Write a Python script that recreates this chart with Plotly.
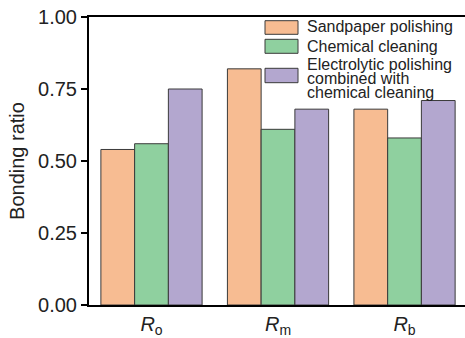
import plotly.graph_objects as go

categories = ["<i>R</i><sub>o</sub>", "<i>R</i><sub>m</sub>", "<i>R</i><sub>b</sub>"]
series_names = ["Sandpaper polishing", "Chemical cleaning",
                "Electrolytic polishing<br>combined with<br>chemical cleaning"]
sandpaper = [0.54, 0.82, 0.68]
chemical = [0.56, 0.61, 0.58]
electrolytic = [0.75, 0.68, 0.71]
colors = ["#F7BC92", "#8FD09F", "#B3A7CF"]
y_ticks = [0.0, 0.25, 0.5, 0.75, 1.0]
y_ticklabels = ["0.00", "0.25", "0.50", "0.75", "1.00"]

FONT = "Liberation Sans, Arial, sans-serif"

fig = go.Figure()
for name, vals, col in zip(series_names, [sandpaper, chemical, electrolytic], colors):
    fig.add_trace(go.Bar(x=categories, y=vals, name=name,
                         marker=dict(color=col, line=dict(color="#3a3a3a", width=1))))

# manual legend (swatches + text) in paper coordinates
W, H = 465, 338
L, R, T, B = 89, 0, 17, 33
pw, ph = W - L - R, H - T - B
def px(x): return (x - L) / pw
def py(y): return 1 - (y - T) / ph

sw = [(20.7, 34.3), (39.3, 53.3), (68.3, 82.7)]
shapes = []
for (y0, y1), col in zip(sw, colors):
    shapes.append(dict(type="rect", xref="paper", yref="paper",
                       x0=px(265), x1=px(298), y0=py(y1), y1=py(y0),
                       fillcolor=col, line=dict(color="#3a3a3a", width=1)))
annotations = []
text_lines = [("Sandpaper polishing", 27), ("Chemical cleaning", 46.5),
              ("Electrolytic polishing", 65), ("combined with", 78.5),
              ("chemical cleaning", 92)]
for txt, yc in text_lines:
    annotations.append(dict(xref="paper", yref="paper", x=px(305), y=py(yc),
                            text=txt, showarrow=False, xanchor="left", yanchor="middle",
                            font=dict(family=FONT, size=16, color="#222")))

fig.update_layout(
    width=W, height=H,
    margin=dict(l=L, r=R, t=T, b=B),
    plot_bgcolor="white", paper_bgcolor="white",
    barmode="group", bargap=0.2, bargroupgap=0,
    showlegend=False,
    font=dict(family=FONT, size=20, color="#222"),
    shapes=shapes, annotations=annotations,
    xaxis=dict(range=[-0.494, 2.478], showline=True, linecolor="black", linewidth=2,
               mirror=True, ticks="", showgrid=False, tickfont=dict(size=20)),
    yaxis=dict(range=[0, 1], tickvals=y_ticks, ticktext=y_ticklabels,
               showline=True, linecolor="black", linewidth=2, ticks="outside",
               ticklen=6, tickwidth=2, tickcolor="black", showgrid=False, zeroline=False,
               tickfont=dict(size=20),
               title=dict(text="Bonding ratio", font=dict(size=20), standoff=8)),
)
fig.write_html("out.html")
